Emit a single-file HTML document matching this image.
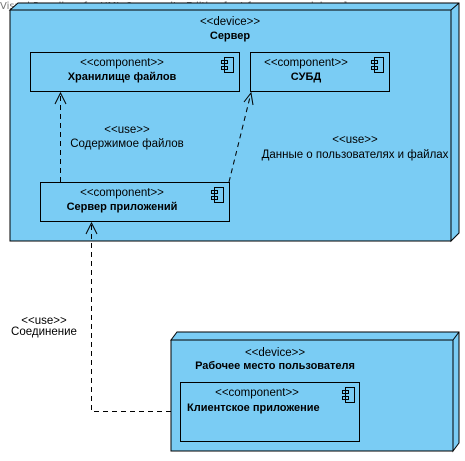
<!DOCTYPE html>
<html><head><meta charset="utf-8"><style>
html,body{margin:0;padding:0;background:#fff;}
text{font-family:"Liberation Sans",sans-serif;font-size:11.5px;fill:#000;}
.b{font-weight:bold;font-size:11px;}
</style></head><body>
<svg width="465" height="456" xmlns="http://www.w3.org/2000/svg">
<text x="0" y="9" style="fill:#777;font-size:10px;font-family:'DejaVu Sans',sans-serif">Visual Paradigm for UML Community Edition [not for commercial use]</text>
<polygon points="10,10 18,3 459,3 459,233 451,241 451,10" fill="#7accf4" stroke="#000"/>
<line x1="451" y1="10" x2="459" y2="3" stroke="#000"/>
<rect x="10" y="10" width="441" height="231" fill="#7accf4" stroke="#000"/>
<text x="230" y="25" text-anchor="middle">&lt;&lt;device&gt;&gt;</text>
<text x="230" y="39" text-anchor="middle" class="b">Сервер</text>
<g fill="#7accf4" stroke="#000">
<rect x="30.5" y="52.5" width="209" height="39"/>
<rect x="250.5" y="52.5" width="139" height="39"/>
<rect x="40.5" y="182.5" width="189" height="39"/>
</g>
<text x="122" y="66" text-anchor="middle">&lt;&lt;component&gt;&gt;</text>
<text x="122" y="80" text-anchor="middle" class="b">Хранилище файлов</text>
<text x="306" y="66" text-anchor="middle">&lt;&lt;component&gt;&gt;</text>
<text x="306" y="80" text-anchor="middle" class="b">СУБД</text>
<text x="122" y="196" text-anchor="middle">&lt;&lt;component&gt;&gt;</text>
<text x="122" y="210" text-anchor="middle" class="b">Сервер приложений</text>
<g fill="none" stroke="#000">
<rect x="224.5" y="57.5" width="9" height="15"/><rect x="221.5" y="60.5" width="6" height="3"/><rect x="221.5" y="66.5" width="6" height="3"/>
<rect x="374.5" y="57.5" width="9" height="15"/><rect x="371.5" y="60.5" width="6" height="3"/><rect x="371.5" y="66.5" width="6" height="3"/>
<rect x="214.5" y="187.5" width="9" height="15"/><rect x="211.5" y="190.5" width="6" height="3"/><rect x="211.5" y="196.5" width="6" height="3"/>
</g>
<g fill="none" stroke="#000" stroke-dasharray="5,4">
<line x1="60.5" y1="182" x2="60.5" y2="93"/>
<line x1="229" y1="182" x2="251" y2="93"/>
<polyline points="180,411.5 91.5,411.5 91.5,223"/>
</g>
<g fill="none" stroke="#000">
<polyline points="55,104 60.5,93 66,104"/>
<polyline points="244,102 251,93 253,105"/>
<polyline points="86,234 91.5,223 97,234"/>
</g>
<text x="127" y="133" text-anchor="middle">&lt;&lt;use&gt;&gt;</text>
<text x="127" y="147" text-anchor="middle">Содержимое файлов</text>
<text x="355" y="143" text-anchor="middle">&lt;&lt;use&gt;&gt;</text>
<text x="355" y="158" text-anchor="middle">Данные о пользователях и файлах</text>
<text x="44" y="324" text-anchor="middle">&lt;&lt;use&gt;&gt;</text>
<text x="44" y="335" text-anchor="middle">Соединение</text>
<polygon points="171,340 177,332 459,332 459,443 453,451 453,340" fill="#7accf4" stroke="#000"/>
<rect x="171" y="340" width="282" height="111" fill="#7accf4" stroke="#000"/>
<line x1="453" y1="340" x2="459" y2="332" stroke="#000"/>
<text x="275" y="356" text-anchor="middle">&lt;&lt;device&gt;&gt;</text>
<text x="275" y="369" text-anchor="middle" class="b">Рабочее место пользователя</text>
<rect x="180.5" y="382.5" width="179" height="59" fill="#7accf4" stroke="#000"/>
<text x="257" y="396" text-anchor="middle">&lt;&lt;component&gt;&gt;</text>
<text x="187" y="411" class="b">Клиентское приложение</text>
<g fill="none" stroke="#000">
<rect x="345.5" y="387.5" width="9" height="15"/><rect x="342.5" y="390.5" width="6" height="3"/><rect x="342.5" y="396.5" width="6" height="3"/>
</g>
</svg>
</body></html>
